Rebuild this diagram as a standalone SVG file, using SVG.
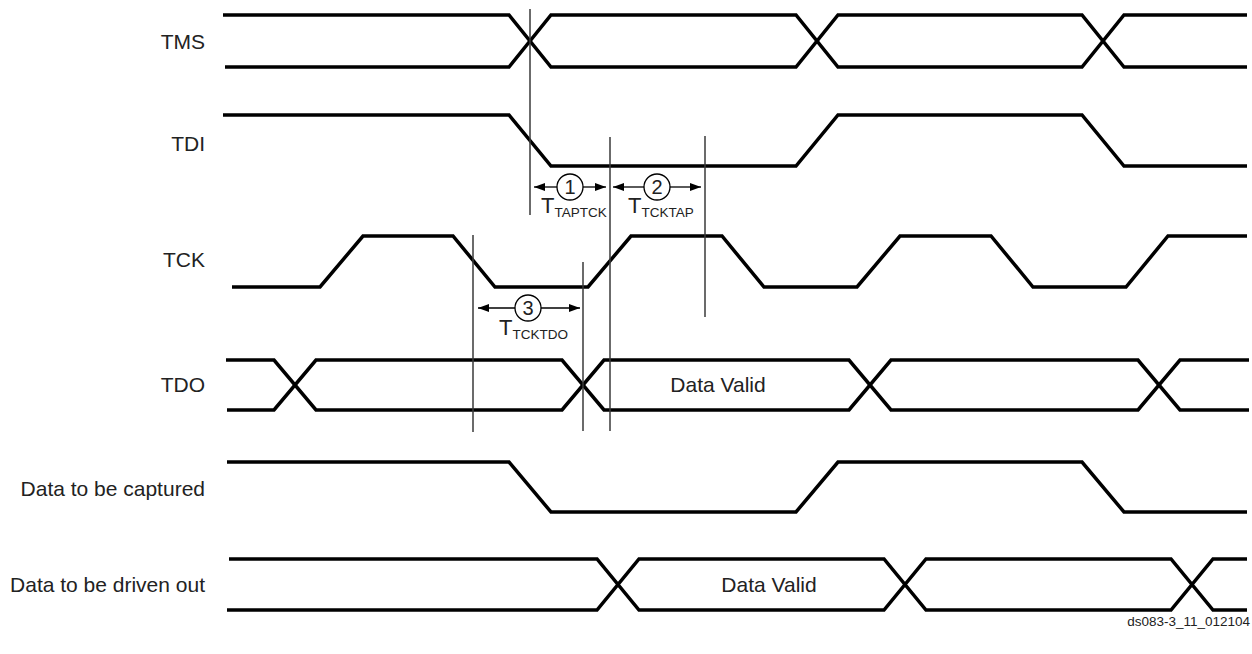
<svg xmlns="http://www.w3.org/2000/svg" width="1252" height="654" viewBox="0 0 1252 654">
<style>
.sig{fill:none;stroke:#000;stroke-width:3.5;stroke-linejoin:miter}
.vl{stroke:#3a3a3a;stroke-width:1.5;fill:none}
.ar{stroke:#000;stroke-width:1.3;fill:none}
.lbl{font-family:"Liberation Sans",Arial,sans-serif;font-size:21px;fill:#222;text-anchor:end}
.txt{font-family:"Liberation Sans",Arial,sans-serif;fill:#222}
.circ{fill:#fff;stroke:#000;stroke-width:1.3}
</style>
<defs>
<marker id="ah" viewBox="0 0 11 8" refX="11" refY="4" markerWidth="11" markerHeight="8" markerUnits="userSpaceOnUse" orient="auto">
<path d="M0,0 L11,4 L0,8 z" fill="#000"/>
</marker>
</defs>
<rect width="1252" height="654" fill="#fff"/>

<g id="tms">
<text class="lbl" x="205" y="49">TMS</text>
<path class="sig" d="M223,15 H509 L551,67 H796 L838,15 H1082 L1124,67 H1247"/>
<path class="sig" d="M225,67 H509 L551,15 H796 L838,67 H1082 L1124,15 H1247"/>
</g>

<g id="tdi">
<text class="lbl" x="205" y="151">TDI</text>
<path class="sig" d="M223,115 H509 L551,166 H796 L838,115 H1082 L1124,166 H1247"/>
</g>

<g id="tck">
<text class="lbl" x="205" y="267">TCK</text>
<path class="sig" d="M232,287 H320 L363,236 H453 L495,287 H588 L631,236 H722 L764,287 H857 L900,236 H991 L1033,287 H1126 L1168,236 H1247"/>
</g>

<g id="tdo">
<text class="lbl" x="205" y="392">TDO</text>
<path class="sig" d="M226,360 H274 L316,410 H562 L604,360 H849 L891,410 H1138 L1180,360 H1249"/>
<path class="sig" d="M227,410 H274 L316,360 H562 L604,410 H849 L891,360 H1138 L1180,410 H1249"/>
<text class="txt" x="718" y="392" font-size="21" text-anchor="middle">Data Valid</text>
</g>

<g id="captured">
<text class="lbl" x="205" y="496">Data to be captured</text>
<path class="sig" d="M227,462 H509 L551,512 H796 L838,462 H1082 L1124,512 H1247"/>
</g>

<g id="drivenout">
<text class="lbl" x="205" y="592">Data to be driven out</text>
<path class="sig" d="M229,559 H597 L639,610 H884 L926,559 H1171 L1213,610 H1247"/>
<path class="sig" d="M227,610 H597 L639,559 H884 L926,610 H1171 L1213,559 H1247"/>
<text class="txt" x="769" y="592" font-size="21" text-anchor="middle">Data Valid</text>
</g>

<g id="connectors">
<line class="vl" x1="530" y1="9" x2="530" y2="215"/>
<line class="vl" x1="610" y1="137" x2="610" y2="431"/>
<line class="vl" x1="705" y1="136" x2="705" y2="317"/>
<line class="vl" x1="473" y1="235" x2="473" y2="432"/>
<line class="vl" x1="583" y1="262" x2="583" y2="431"/>

<path class="ar" d="M557,187 L534,187" marker-end="url(#ah)"/>
<path class="ar" d="M583,187 L606,187" marker-end="url(#ah)"/>
<path class="ar" d="M644,187 L613,187" marker-end="url(#ah)"/>
<path class="ar" d="M670,187 L701,187" marker-end="url(#ah)"/>
<path class="ar" d="M515,308 L478,308" marker-end="url(#ah)"/>
<path class="ar" d="M541,308 L580,308" marker-end="url(#ah)"/>
</g>

<g id="t1">
<circle class="circ" cx="570" cy="187" r="13"/>
<text class="txt" x="570" y="194" font-size="20" text-anchor="middle">1</text>
<text class="txt" x="541" y="213" font-size="22">T<tspan font-size="13.5" dy="4">TAPTCK</tspan></text>
</g>
<g id="t2">
<circle class="circ" cx="657" cy="187" r="13"/>
<text class="txt" x="657" y="194" font-size="20" text-anchor="middle">2</text>
<text class="txt" x="628" y="213" font-size="22">T<tspan font-size="13.5" dy="4">TCKTAP</tspan></text>
</g>
<g id="t3">
<circle class="circ" cx="528" cy="308" r="13"/>
<text class="txt" x="528" y="315" font-size="20" text-anchor="middle">3</text>
<text class="txt" x="499" y="335" font-size="22">T<tspan font-size="13.5" dy="4">TCKTDO</tspan></text>
</g>

<text class="txt" x="1250" y="626" font-size="13.5" text-anchor="end">ds083-3_11_012104</text>
</svg>
